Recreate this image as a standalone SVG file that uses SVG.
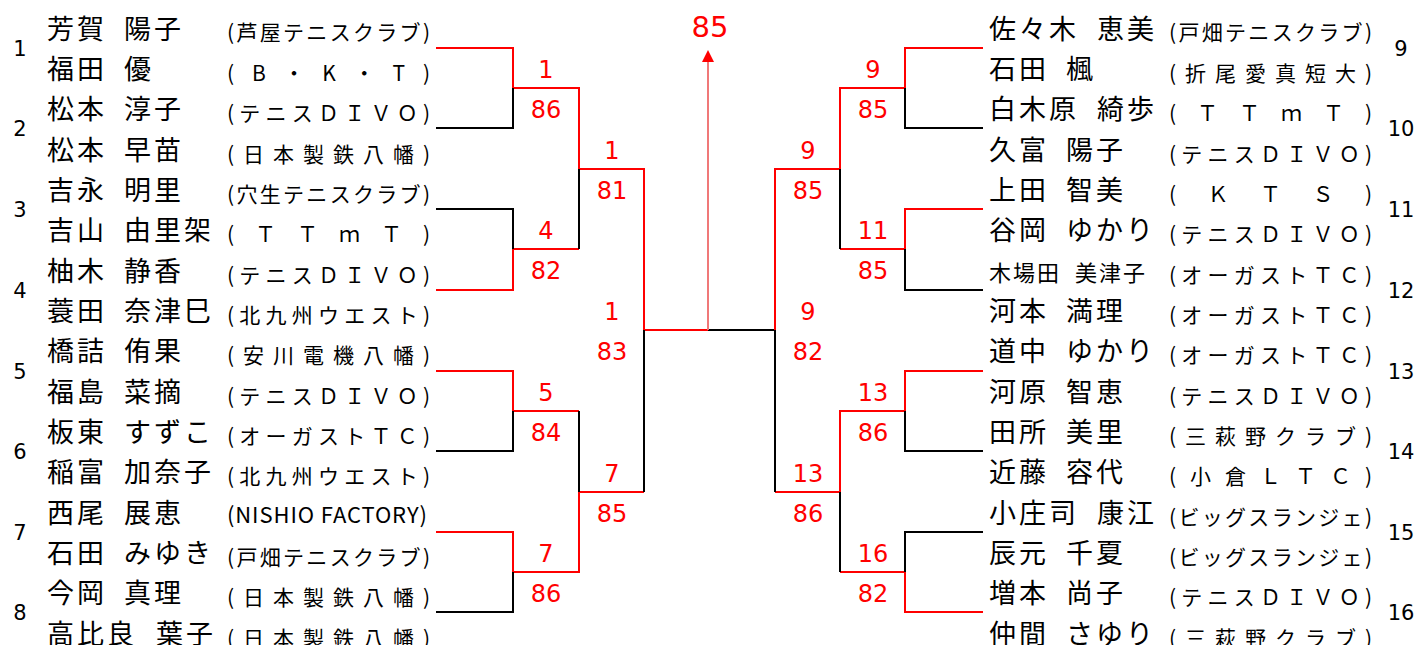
<svg xmlns="http://www.w3.org/2000/svg" width="1418" height="645" viewBox="0 0 1418 645">
<style>
.nm{font-family:"Noto Sans CJK JP","Noto Sans CJK SC",sans-serif;font-size:27px;letter-spacing:3px;fill:#000}
.nms{font-family:"Noto Sans CJK JP","Noto Sans CJK SC",sans-serif;font-size:22px;letter-spacing:2px;fill:#000}
.cl{font-family:"Noto Sans CJK JP","Noto Sans CJK SC",sans-serif;font-size:21px;fill:#000}
.cle{font-family:"Noto Sans CJK JP","Noto Sans CJK SC",sans-serif;font-size:22px;fill:#000}
.no{font-family:"DejaVu Sans",sans-serif;font-size:21px;fill:#000;text-anchor:middle}
.sc{font-family:"DejaVu Sans",sans-serif;font-size:24px;fill:#f00;text-anchor:middle}
.top{font-family:"DejaVu Sans",sans-serif;font-size:29px;fill:#f00;text-anchor:middle}
.r{stroke:#f00;stroke-width:2;fill:none}
.b{stroke:#000;stroke-width:2;fill:none}
.ar{stroke:#f07878;stroke-width:2;fill:none}
</style>
<defs>
<marker id="ah" viewBox="0 0 12 12" refX="0" refY="6" markerWidth="12" markerHeight="12" markerUnits="userSpaceOnUse" orient="auto">
<path d="M0,0 L12,6 L0,12 z" fill="#f00"/>
</marker>
</defs>

<g id="connectors">
<path class="r" d="M436 48 H513 V88 H579 V169 H644 V330 H708"/>
<path class="r" d="M436 290 H513 V249 H579"/>
<path class="r" d="M436 371 H513 V411 H579"/>
<path class="r" d="M436 532 H513 V572 H579 V492 H644"/>
<path class="b" d="M436 128 H513 V88"/>
<path class="b" d="M436 209 H513 V249"/>
<path class="b" d="M579 249 V169"/>
<path class="b" d="M436 451 H513 V411"/>
<path class="b" d="M436 612 H513 V572"/>
<path class="b" d="M579 411 V492"/>
<path class="b" d="M644 492 V330"/>
<path class="b" d="M708 330 H775"/>
<path class="r" d="M983 48 H905 V88 H840 V169 H775 V330"/>
<path class="r" d="M983 209 H905 V249 H840"/>
<path class="r" d="M983 371 H905 V411 H840 V492 H775"/>
<path class="r" d="M983 612 H905 V572 H840"/>
<path class="b" d="M983 128 H905 V88"/>
<path class="b" d="M983 290 H905 V249"/>
<path class="b" d="M840 249 V169"/>
<path class="b" d="M983 451 H905 V411"/>
<path class="b" d="M983 532 H905 V572"/>
<path class="b" d="M840 572 V492"/>
<path class="b" d="M775 492 V330"/>
<path class="ar" d="M708 330 V62" marker-end="url(#ah)"/>
</g>

<g id="scores">
<text class="top" x="710" y="37">85</text>
<text class="sc" x="546" y="78">1</text><text class="sc" x="546" y="118">86</text>
<text class="sc" x="546" y="239">4</text><text class="sc" x="546" y="279">82</text>
<text class="sc" x="546" y="401">5</text><text class="sc" x="546" y="441">84</text>
<text class="sc" x="546" y="562">7</text><text class="sc" x="546" y="602">86</text>
<text class="sc" x="612" y="159">1</text><text class="sc" x="612" y="199">81</text>
<text class="sc" x="612" y="482">7</text><text class="sc" x="612" y="522">85</text>
<text class="sc" x="612" y="320">1</text><text class="sc" x="612" y="360">83</text>
<text class="sc" x="873" y="78">9</text><text class="sc" x="873" y="118">85</text>
<text class="sc" x="873" y="239">11</text><text class="sc" x="873" y="279">85</text>
<text class="sc" x="873" y="401">13</text><text class="sc" x="873" y="441">86</text>
<text class="sc" x="873" y="562">16</text><text class="sc" x="873" y="602">82</text>
<text class="sc" x="808" y="159">9</text><text class="sc" x="808" y="199">85</text>
<text class="sc" x="808" y="482">13</text><text class="sc" x="808" y="522">86</text>
<text class="sc" x="808" y="320">9</text><text class="sc" x="808" y="360">82</text>
</g>

<g id="pair-numbers">
<text class="no" x="20" y="55.5">1</text>
<text class="no" x="20" y="135.5">2</text>
<text class="no" x="20" y="216.5">3</text>
<text class="no" x="20" y="297.5">4</text>
<text class="no" x="20" y="378.5">5</text>
<text class="no" x="20" y="458.5">6</text>
<text class="no" x="20" y="539.5">7</text>
<text class="no" x="20" y="619.5">8</text>
<text class="no" x="1401" y="55.5">9</text>
<text class="no" x="1401" y="135.5">10</text>
<text class="no" x="1401" y="216.5">11</text>
<text class="no" x="1401" y="297.5">12</text>
<text class="no" x="1401" y="378.5">13</text>
<text class="no" x="1401" y="458.5">14</text>
<text class="no" x="1401" y="539.5">15</text>
<text class="no" x="1401" y="619.5">16</text>
</g>

<g id="p1" transform="translate(0,38.5)"><text class="nm" x="47" y="0">芳賀</text><text class="nm" x="124" y="0">陽子</text><text class="cl" x="227" y="1.5" textLength="203" lengthAdjust="spacing">(芦屋テニスクラブ)</text></g>
<g id="p2" transform="translate(0,79)"><text class="nm" x="47" y="0">福田</text><text class="nm" x="124" y="0">優</text><text class="cl" x="227" y="1.5" textLength="203" lengthAdjust="spacing">(B・K・T)</text></g>
<g id="p3" transform="translate(0,119)"><text class="nm" x="47" y="0">松本</text><text class="nm" x="124" y="0">淳子</text><text class="cl" x="227" y="1.5" textLength="203" lengthAdjust="spacing">(テニスＤＩＶＯ)</text></g>
<g id="p4" transform="translate(0,160)"><text class="nm" x="47" y="0">松本</text><text class="nm" x="124" y="0">早苗</text><text class="cl" x="227" y="1.5" textLength="203" lengthAdjust="spacing">(日本製鉄八幡)</text></g>
<g id="p5" transform="translate(0,200)"><text class="nm" x="47" y="0">吉永</text><text class="nm" x="124" y="0">明里</text><text class="cl" x="227" y="1.5" textLength="203" lengthAdjust="spacing">(穴生テニスクラブ)</text></g>
<g id="p6" transform="translate(0,240)"><text class="nm" x="47" y="0">吉山</text><text class="nm" x="124" y="0">由里架</text><text class="cl" x="227" y="1.5" textLength="203" lengthAdjust="spacing">(ＴＴｍＴ)</text></g>
<g id="p7" transform="translate(0,281)"><text class="nm" x="47" y="0">柚木</text><text class="nm" x="124" y="0">静香</text><text class="cl" x="227" y="1.5" textLength="203" lengthAdjust="spacing">(テニスＤＩＶＯ)</text></g>
<g id="p8" transform="translate(0,321)"><text class="nm" x="47" y="0">蓑田</text><text class="nm" x="124" y="0">奈津巳</text><text class="cl" x="227" y="1.5" textLength="203" lengthAdjust="spacing">(北九州ウエスト)</text></g>
<g id="p9" transform="translate(0,361)"><text class="nm" x="47" y="0">橋詰</text><text class="nm" x="124" y="0">侑果</text><text class="cl" x="227" y="1.5" textLength="203" lengthAdjust="spacing">(安川電機八幡)</text></g>
<g id="p10" transform="translate(0,402)"><text class="nm" x="47" y="0">福島</text><text class="nm" x="124" y="0">菜摘</text><text class="cl" x="227" y="1.5" textLength="203" lengthAdjust="spacing">(テニスＤＩＶＯ)</text></g>
<g id="p11" transform="translate(0,442)"><text class="nm" x="47" y="0">板東</text><text class="nm" x="124" y="0">すずこ</text><text class="cl" x="227" y="1.5" textLength="203" lengthAdjust="spacing">(オーガストＴＣ)</text></g>
<g id="p12" transform="translate(0,482)"><text class="nm" x="47" y="0">稲富</text><text class="nm" x="124" y="0">加奈子</text><text class="cl" x="227" y="1.5" textLength="203" lengthAdjust="spacing">(北九州ウエスト)</text></g>
<g id="p13" transform="translate(0,523)"><text class="nm" x="47" y="0">西尾</text><text class="nm" x="124" y="0">展恵</text><text class="cle" x="227" y="0" textLength="200" lengthAdjust="spacing">(NISHIO FACTORY)</text></g>
<g id="p14" transform="translate(0,563)"><text class="nm" x="47" y="0">石田</text><text class="nm" x="124" y="0">みゆき</text><text class="cl" x="227" y="1.5" textLength="203" lengthAdjust="spacing">(戸畑テニスクラブ)</text></g>
<g id="p15" transform="translate(0,603)"><text class="nm" x="47" y="0">今岡</text><text class="nm" x="124" y="0">真理</text><text class="cl" x="227" y="1.5" textLength="203" lengthAdjust="spacing">(日本製鉄八幡)</text></g>
<g id="p16" transform="translate(0,644)"><text class="nm" x="47" y="0">高比良</text><text class="nm" x="156" y="0">葉子</text><text class="cl" x="227" y="1.5" textLength="203" lengthAdjust="spacing">(日本製鉄八幡)</text></g>

<g id="p17" transform="translate(0,38.5)"><text class="nm" x="989" y="0">佐々木</text><text class="nm" x="1097" y="0">恵美</text><text class="cl" x="1169" y="1.5" textLength="203" lengthAdjust="spacing">(戸畑テニスクラブ)</text></g>
<g id="p18" transform="translate(0,79)"><text class="nm" x="989" y="0">石田</text><text class="nm" x="1066" y="0">楓</text><text class="cl" x="1169" y="1.5" textLength="203" lengthAdjust="spacing">(折尾愛真短大)</text></g>
<g id="p19" transform="translate(0,119)"><text class="nm" x="989" y="0">白木原</text><text class="nm" x="1097" y="0">綺歩</text><text class="cl" x="1169" y="1.5" textLength="203" lengthAdjust="spacing">(ＴＴｍＴ)</text></g>
<g id="p20" transform="translate(0,160)"><text class="nm" x="989" y="0">久富</text><text class="nm" x="1066" y="0">陽子</text><text class="cl" x="1169" y="1.5" textLength="203" lengthAdjust="spacing">(テニスＤＩＶＯ)</text></g>
<g id="p21" transform="translate(0,200)"><text class="nm" x="989" y="0">上田</text><text class="nm" x="1066" y="0">智美</text><text class="cl" x="1169" y="1.5" textLength="203" lengthAdjust="spacing">(ＫＴＳ)</text></g>
<g id="p22" transform="translate(0,240)"><text class="nm" x="989" y="0">谷岡</text><text class="nm" x="1066" y="0">ゆかり</text><text class="cl" x="1169" y="1.5" textLength="203" lengthAdjust="spacing">(テニスＤＩＶＯ)</text></g>
<g id="p23" transform="translate(0,281)"><text class="nms" x="989" y="0">木場田</text><text class="nms" x="1075" y="0">美津子</text><text class="cl" x="1169" y="1.5" textLength="203" lengthAdjust="spacing">(オーガストＴＣ)</text></g>
<g id="p24" transform="translate(0,321)"><text class="nm" x="989" y="0">河本</text><text class="nm" x="1066" y="0">満理</text><text class="cl" x="1169" y="1.5" textLength="203" lengthAdjust="spacing">(オーガストＴＣ)</text></g>
<g id="p25" transform="translate(0,361)"><text class="nm" x="989" y="0">道中</text><text class="nm" x="1066" y="0">ゆかり</text><text class="cl" x="1169" y="1.5" textLength="203" lengthAdjust="spacing">(オーガストＴＣ)</text></g>
<g id="p26" transform="translate(0,402)"><text class="nm" x="989" y="0">河原</text><text class="nm" x="1066" y="0">智恵</text><text class="cl" x="1169" y="1.5" textLength="203" lengthAdjust="spacing">(テニスＤＩＶＯ)</text></g>
<g id="p27" transform="translate(0,442)"><text class="nm" x="989" y="0">田所</text><text class="nm" x="1066" y="0">美里</text><text class="cl" x="1169" y="1.5" textLength="203" lengthAdjust="spacing">(三萩野クラブ)</text></g>
<g id="p28" transform="translate(0,482)"><text class="nm" x="989" y="0">近藤</text><text class="nm" x="1066" y="0">容代</text><text class="cl" x="1169" y="1.5" textLength="203" lengthAdjust="spacing">(小倉ＬＴＣ)</text></g>
<g id="p29" transform="translate(0,523)"><text class="nm" x="989" y="0">小庄司</text><text class="nm" x="1097" y="0">康江</text><text class="cl" x="1169" y="1.5" textLength="203" lengthAdjust="spacing">(ビッグスランジェ)</text></g>
<g id="p30" transform="translate(0,563)"><text class="nm" x="989" y="0">辰元</text><text class="nm" x="1066" y="0">千夏</text><text class="cl" x="1169" y="1.5" textLength="203" lengthAdjust="spacing">(ビッグスランジェ)</text></g>
<g id="p31" transform="translate(0,603)"><text class="nm" x="989" y="0">増本</text><text class="nm" x="1066" y="0">尚子</text><text class="cl" x="1169" y="1.5" textLength="203" lengthAdjust="spacing">(テニスＤＩＶＯ)</text></g>
<g id="p32" transform="translate(0,644)"><text class="nm" x="989" y="0">仲間</text><text class="nm" x="1066" y="0">さゆり</text><text class="cl" x="1169" y="1.5" textLength="203" lengthAdjust="spacing">(三萩野クラブ)</text></g>
</svg>
